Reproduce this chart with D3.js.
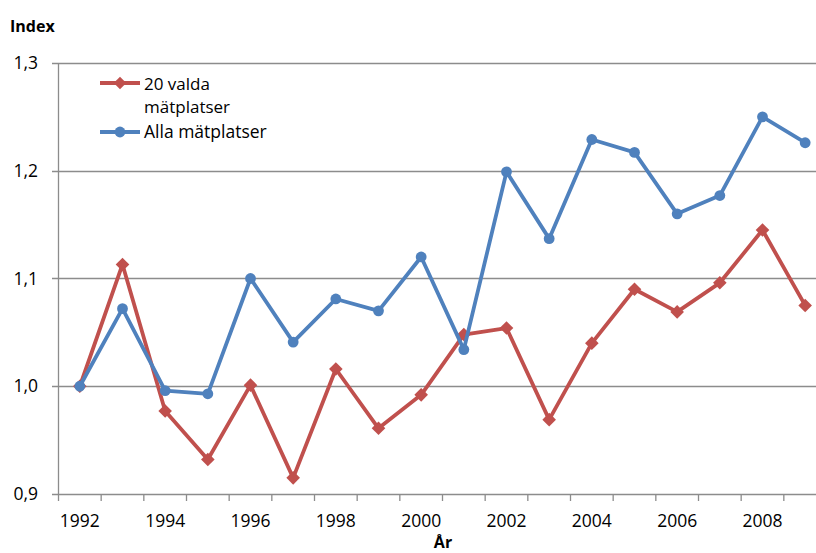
<!DOCTYPE html>
<html><head><meta charset="utf-8">
<script src="https://cdn.jsdelivr.net/npm/d3@7"></script>
<style>body{margin:0;background:#fff}svg{display:block}text{font-family:"Open Sans",sans-serif}</style>
</head><body><svg id="c" width="816" height="553"></svg>
<script>
const years = [1992,1993,1994,1995,1996,1997,1998,1999,2000,2001,2002,2003,2004,2005,2006,2007,2008,2009];
const valda = [1.000,1.113,0.977,0.932,1.001,0.915,1.016,0.961,0.992,1.048,1.054,0.969,1.040,1.090,1.069,1.096,1.145,1.075];
const alla  = [1.000,1.072,0.996,0.993,1.100,1.041,1.081,1.070,1.120,1.034,1.199,1.137,1.229,1.217,1.160,1.177,1.250,1.226];
const yTicks = [0.9,1.0,1.1,1.2,1.3];
const xLabels = [1992,1994,1996,1998,2000,2002,2004,2006,2008];
const seriesNames = ["20 valda mätplatser","Alla mätplatser"];

const svg = d3.select("#c");
const grey = "#8c8c8c";
const red = "#C0504D", blue = "#4F81BD";
const x = d3.scaleLinear().domain([1991.5, 2009.5]).range([58.5, 826.5]);
const y = d3.scaleLinear().domain([0.9, 1.3]).range([494, 63]);
const fmt = d => d3.format(".1f")(d).replace(".", ",");

// gridlines + y ticks
svg.append("g").selectAll("line").data(yTicks).join("line")
  .attr("x1", 52).attr("x2", 816)
  .attr("y1", d => Math.round(y(d)) + 0.5).attr("y2", d => Math.round(y(d)) + 0.5)
  .attr("stroke", grey).attr("stroke-width", 1.3);
// y axis line
svg.append("line").attr("x1", 58.5).attr("x2", 58.5).attr("y1", y(1.3)).attr("y2", y(0.9) + 0.5)
  .attr("stroke", grey).attr("stroke-width", 1.3);
// y labels
svg.append("g").selectAll("text").data(yTicks).join("text")
  .attr("x", 38).attr("y", d => y(d)).attr("dy", "0.35em").attr("text-anchor", "end")
  .attr("font-size", 17.5).attr("fill", "#000").text(fmt);

// x ticks at category boundaries
const bounds = d3.range(1991.5, 2010, 1);
svg.append("g").selectAll("line").data(bounds).join("line")
  .attr("x1", d => x(d)).attr("x2", d => x(d))
  .attr("y1", y(0.9)).attr("y2", y(0.9) + 7)
  .attr("stroke", grey).attr("stroke-width", 1.3);
// x labels
svg.append("g").selectAll("text").data(xLabels).join("text")
  .attr("x", d => x(d)).attr("y", 527).attr("text-anchor", "middle")
  .attr("font-size", 17.5).attr("fill", "#000").text(d => d);

// titles
svg.append("text").attr("x", 10).attr("y", 32).attr("font-size", 16).attr("font-weight", "bold").text("Index");
svg.append("text").attr("x", 443).attr("y", 548).attr("text-anchor", "middle").attr("font-size", 16).attr("font-weight", "bold").text("År");

const line = d3.line().x((d, i) => x(years[i])).y(d => y(d));
function drawDiamond(g, cx, cy, s) {
  g.append("path").attr("d", `M${cx},${cy - s}L${cx + s},${cy}L${cx},${cy + s}L${cx - s},${cy}Z`).attr("fill", red);
}

// red series
svg.append("path").datum(valda).attr("d", line).attr("fill", "none").attr("stroke", red)
  .attr("stroke-width", 3.8).attr("stroke-linejoin", "round");
const gR = svg.append("g");
valda.forEach((v, i) => drawDiamond(gR, x(years[i]), y(v), 6.8));

// blue series
svg.append("path").datum(alla).attr("d", line).attr("fill", "none").attr("stroke", blue)
  .attr("stroke-width", 3.8).attr("stroke-linejoin", "round");
svg.append("g").selectAll("circle").data(alla).join("circle")
  .attr("cx", (d, i) => x(years[i])).attr("cy", d => y(d)).attr("r", 5.4).attr("fill", blue);

// legend
const lg = svg.append("g");
lg.append("line").attr("x1", 100).attr("x2", 140).attr("y1", 83).attr("y2", 83).attr("stroke", red).attr("stroke-width", 3.8);
drawDiamond(lg, 120, 83, 6.3);
lg.append("text").attr("x", 144).attr("y", 89.5).attr("font-size", 17).text("20 valda");
lg.append("text").attr("x", 144).attr("y", 113).attr("font-size", 17).text("mätplatser");
lg.append("line").attr("x1", 100).attr("x2", 140).attr("y1", 132).attr("y2", 132).attr("stroke", blue).attr("stroke-width", 3.8);
lg.append("circle").attr("cx", 120).attr("cy", 132).attr("r", 5.4).attr("fill", blue);
lg.append("text").attr("x", 144).attr("y", 138).attr("font-size", 17.5).text(seriesNames[1]);
</script></body></html>
